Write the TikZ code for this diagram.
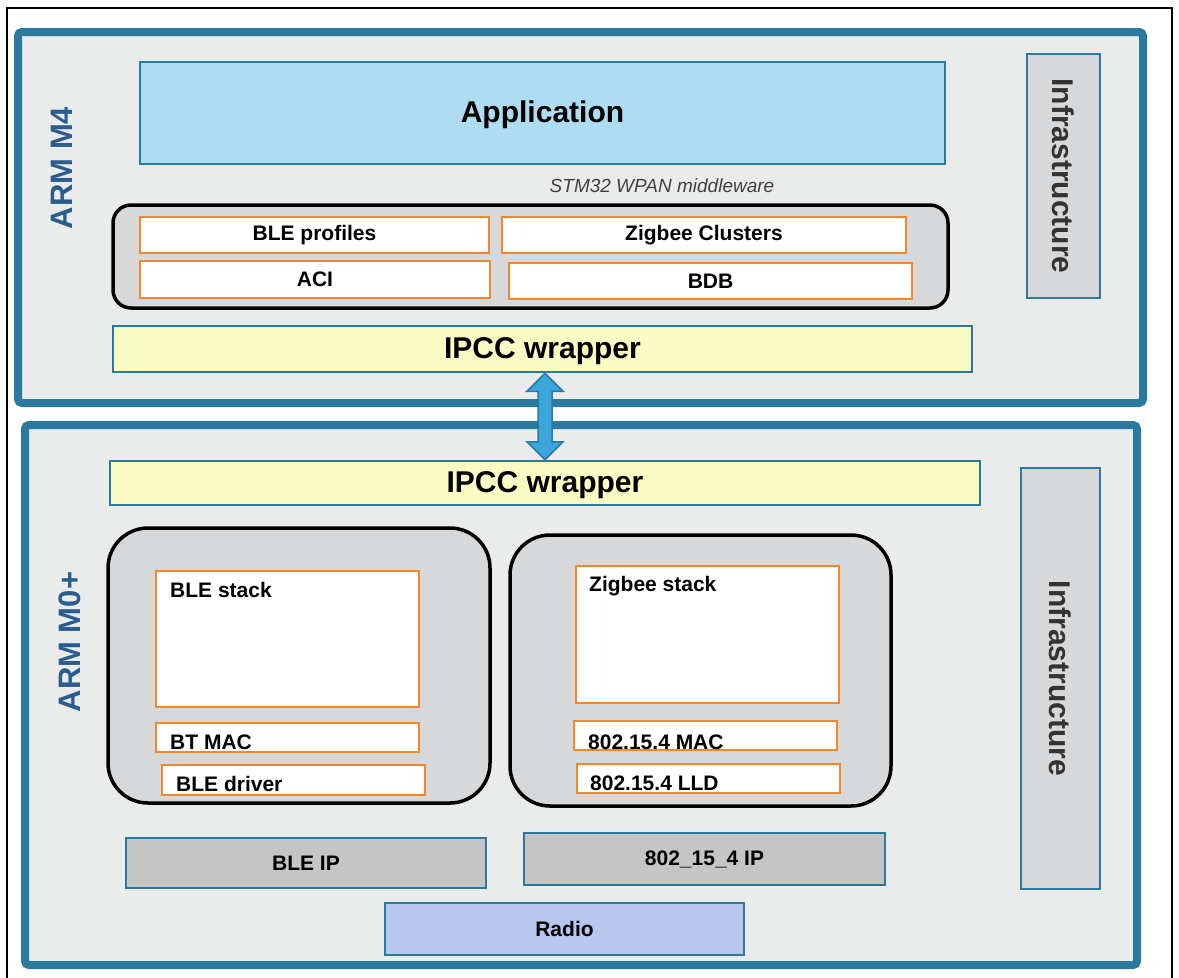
\documentclass[tikz,border=0pt]{standalone}
\usepackage{fontspec}
\setmainfont{Liberation Sans}
\usepackage{xcolor}
\usepackage{tikz}
\usetikzlibrary{calc}
\pgfdeclarelayer{nodelayer}
\pgfdeclarelayer{edgelayer}
\pgfsetlayers{nodelayer,edgelayer,main}

\definecolor{panelblue}{RGB}{41,122,158}
\definecolor{panelgrey}{RGB}{234,236,235}
\definecolor{appblue}{RGB}{174,220,240}
\definecolor{boxgrey}{RGB}{215,216,218}
\definecolor{ipgrey}{RGB}{196,197,196}
\definecolor{ipccyellow}{RGB}{249,253,196}
\definecolor{radioblue}{RGB}{185,199,239}
\definecolor{layerorange}{RGB}{245,134,42}
\definecolor{armblue}{RGB}{43,92,142}
\definecolor{arrowblue}{RGB}{58,166,217}

\begin{document}
\begin{tikzpicture}[x=1pt, y=-1pt,
    panel/.style={draw=panelblue, line width=8pt, fill=panelgrey, rounded corners=4pt, inner sep=0pt},
    bluebox/.style={draw=panelblue, line width=2.5pt, inner sep=0pt},
    layerbox/.style={draw=layerorange, line width=2pt, fill=white, inner sep=0pt},
    stackbox/.style={draw=black, line width=3.5pt, fill=boxgrey, inner sep=0pt},
    bigtxt/.style={font=\fontsize{30}{32}\selectfont\bfseries},
    smalltxt/.style={font=\fontsize{21}{23}\selectfont\bfseries},
    armtxt/.style={font=\fontsize{31}{33}\selectfont\bfseries, text=armblue, rotate=90},
    infratxt/.style={font=\fontsize{30}{32}\selectfont\bfseries, text=black!80, rotate=-90},
    ipccarrow/.style={draw=panelblue, line width=1.5pt, fill=arrowblue, line join=miter}]
  \useasboundingbox (0,0) rectangle (1179,978);
  \begin{pgfonlayer}{nodelayer}
    \draw [line width=2pt] (7,8) rectangle (1172,990);
    % ARM M4
    \node [panel, minimum width=1125pt, minimum height=371pt] (0) at (580.5, 217.5) {};
    \node [armtxt] (1) at (62, 168) {ARM M4};
    \node [bluebox, fill=appblue, minimum width=805pt, minimum height=102pt] (2) at (542.5, 113) {};
    \node [bigtxt] (34) at (542.5, 115) {Application};
    \node [font=\fontsize{19}{21}\selectfont\itshape, text=black!75] (3) at (662, 186) {STM32 WPAN middleware};
    \node [stackbox, rounded corners=18pt, minimum width=835pt, minimum height=103pt] (4) at (530.5, 256.5) {};
    \node [layerbox, smalltxt, minimum width=349pt, minimum height=36pt] (5) at (314.5, 235) {BLE profiles};
    \node [layerbox, smalltxt, minimum width=404pt, minimum height=36pt] (6) at (704, 235) {Zigbee Clusters};
    \node [layerbox, smalltxt, minimum width=350pt, minimum height=37pt] (7) at (315, 279.5) {ACI};
    \node [layerbox, smalltxt, minimum width=403pt, minimum height=36pt] (8) at (710.5, 281) {BDB};
    \node [bluebox, fill=ipccyellow, minimum width=859pt, minimum height=46pt] (9) at (542.5, 349) {};
    \node [bigtxt] (35) at (542.5, 351) {IPCC wrapper};
    \node [bluebox, fill=boxgrey, minimum width=73pt, minimum height=244pt] (10) at (1063.5, 176) {};
    \node [infratxt] (11) at (10) {Infrastructure};
    % ARM M0+
    \node [panel, minimum width=1112pt, minimum height=540pt] (12) at (581, 695) {};
    \node [armtxt] (13) at (70, 642) {ARM M0+};
    \node [bluebox, fill=ipccyellow, minimum width=870pt, minimum height=44pt] (14) at (545, 483) {};
    \node [bigtxt] (36) at (545, 485) {IPCC wrapper};
    \node [bluebox, fill=boxgrey, minimum width=79pt, minimum height=421pt] (15) at (1060.5, 678.5) {};
    \node [infratxt] (16) at (15) {Infrastructure};
    \node [stackbox, rounded corners=40pt, minimum width=382pt, minimum height=275pt] (17) at (299, 665.5) {};
    \node [layerbox, minimum width=263pt, minimum height=136pt] (18) at (287.5, 639) {};
    \node [smalltxt, anchor=west, inner sep=0pt] (19) at (170, 590) {BLE stack};
    \node [layerbox, minimum width=263pt, minimum height=29pt] (20) at (287.5, 737.5) {};
    \node [smalltxt, anchor=west, inner sep=0pt] (21) at (170, 742) {BT MAC};
    \node [layerbox, minimum width=263pt, minimum height=30pt] (22) at (293.5, 780) {};
    \node [smalltxt, anchor=west, inner sep=0pt] (23) at (176, 784) {BLE driver};
    \node [stackbox, rounded corners=40pt, minimum width=381pt, minimum height=271pt] (24) at (700.5, 670.5) {};
    \node [layerbox, minimum width=263pt, minimum height=137pt] (25) at (707.5, 634.5) {};
    \node [smalltxt, anchor=west, inner sep=0pt] (26) at (589, 586) {Zigbee stack};
    \node [layerbox, minimum width=263pt, minimum height=29pt] (27) at (705.5, 735.5) {};
    \node [smalltxt, anchor=west, inner sep=0pt] (28) at (588, 742) {802.15.4 MAC};
    \node [layerbox, minimum width=263pt, minimum height=29pt] (29) at (708.5, 778.5) {};
    \node [smalltxt, anchor=west, inner sep=0pt] (30) at (590, 783) {802.15.4 LLD};
    \node [bluebox, fill=ipgrey, smalltxt, minimum width=360pt, minimum height=50pt] (31) at (306, 863) {BLE IP};
    \node [bluebox, fill=ipgrey, smalltxt, minimum width=361pt, minimum height=52pt] (32) at (704.5, 859) {802\_15\_4 IP};
    \node [bluebox, fill=radioblue, smalltxt, minimum width=359pt, minimum height=52pt] (33) at (564.5, 929) {Radio};
  \end{pgfonlayer}
  \begin{pgfonlayer}{edgelayer}
    \draw [ipccarrow] (14.north |- 9.south) -- ++(18,18) -- ++(-11,0) -- ($(14.north)+(7,-18)$) -- ++(11,0) -- (14.north) -- ++(-18,-18) -- ++(11,0) -- ($(14.north |- 9.south)+(-7,18)$) -- ++(-11,0) -- cycle;
  \end{pgfonlayer}
\end{tikzpicture}
\end{document}
